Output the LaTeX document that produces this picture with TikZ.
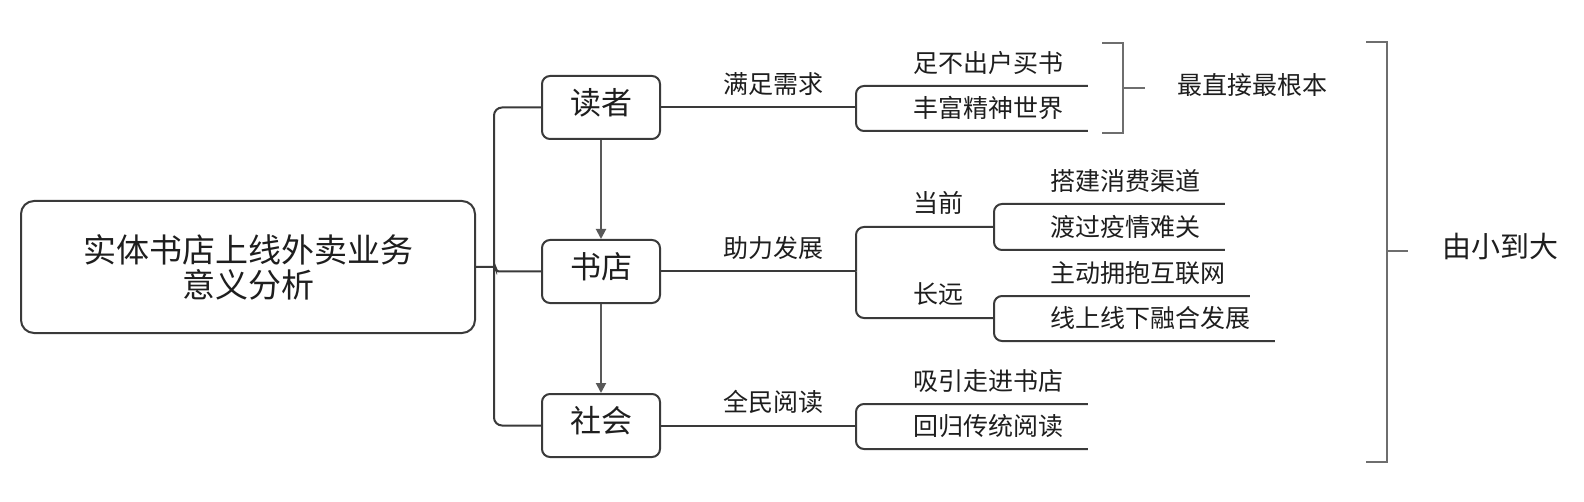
\documentclass[tikz,border=0pt]{standalone}
\usepackage{fontspec}
\setmainfont{Noto Sans CJK SC}
\usetikzlibrary{positioning,calc,arrows.meta}
\usepackage{xcolor}
\definecolor{linec}{HTML}{3A3A3A}
\definecolor{arrowc}{HTML}{595959}
\definecolor{bracec}{HTML}{6E6E6E}
\definecolor{textc}{HTML}{1E1E1E}
\tikzset{
topic/.style={
  draw=linec,
  line width=1pt,
  rounded corners=4pt,
  minimum width=59pt,
  minimum height=31.5pt,
  inner sep=0pt,
  text height=0.84em,
  text depth=0.18em,
  font=\fontsize{15.5}{17}\selectfont,
  text=textc
  },
root/.style={
  topic,
  rounded corners=6.5pt,
  minimum width=227pt,
  minimum height=66pt,
  align=center,
  text height=,
  text depth=,
  font=\fontsize{16.5}{17.5}\selectfont
  },
link/.style={draw=linec, line width=1pt},
flow/.style={draw=arrowc, line width=1pt, -{Triangle[length=5pt,width=5pt]}},
lab/.style={
  font=\fontsize{12.5}{14}\selectfont,
  text=textc,
  text height=0.84em,
  text depth=0.08em,
  inner ysep=5.75pt,
  inner xsep=12pt
  },
brace/.style={draw=bracec, line width=1pt},
%note/.style={font=\small}
}

\begin{document}
\begin{tikzpicture}[x=0.5pt,y=-0.5pt]
    \useasboundingbox (0,0) rectangle (1584,502);
    % root and the three topics
    \node[root] (root) at (248,267) {实体书店上线外卖业务\\意义分析};
    \node[topic] (rd) at (601,107.5) {读者};
    \node[topic] (bs) at (601,271.5) {书店};
    \node[topic] (sc) at (601,425.5) {社会};
    \draw[link, rounded corners=4pt] (rd.west) -- ++(-47,0) |- (sc.west);
    \draw[link, rounded corners=1.5pt] (root.east) -- ++(20,0) |- (bs.west);
    \draw[flow] (rd) -- (bs);
    \draw[flow] (bs) -- (sc);

    % readers
    \coordinate (s1) at (856,107.5);
    \draw[link] (rd.east) -- (s1) node[lab, pos=0.577, above] (need) {满足需求};
    \node[lab, anchor=south west] (rd1) at (889,86) {足不出户买书};
    \node[lab, anchor=south west] (rd2) at (889,131) {丰富精神世界};
    \draw[link, rounded corners=4pt] (rd1.south east) -| (s1) |- (rd2.south east);

    % bookshops
    \coordinate (s2) at (856,271.5);
    \coordinate (s3) at (994,227);
    \coordinate (s4) at (994,318);
    \draw[link] (bs.east) -- (s2) node[lab, pos=0.577, above] (grow) {助力发展};
    \draw[link, rounded corners=4pt] (s3) -| (s2) node[lab, pos=0.2, above] (now) {当前};
    \draw[link, rounded corners=4pt] (s2) |- (s4) node[lab, pos=0.8, above] (far) {长远};
    \node[lab, anchor=south west] (bs1) at (1026,204) {搭建消费渠道};
    \node[lab, anchor=south west] (bs2) at (1026,250) {渡过疫情难关};
    \node[lab, anchor=south west] (bs3) at (1026,296) {主动拥抱互联网};
    \node[lab, anchor=south west] (bs4) at (1026,341) {线上线下融合发展};
    \draw[link, rounded corners=4pt] (bs1.south east) -| (s3) |- (bs2.south east);
    \draw[link, rounded corners=4pt] (bs3.south east) -| (s4) |- (bs4.south east);

    % society
    \coordinate (s5) at (856,425.5);
    \draw[link] (sc.east) -- (s5) node[lab, pos=0.577, above] (all) {全民阅读};
    \node[lab, anchor=south west] (sc1) at (889,404) {吸引走进书店};
    \node[lab, anchor=south west] (sc2) at (889,449) {回归传统阅读};
    \draw[link, rounded corners=4pt] (sc1.south east) -| (s5) |- (sc2.south east);

    % brackets
    \coordinate (b1) at (1123,88);
    \coordinate (b2) at (1387,251);
    \draw[brace] (1102,43) -| (b1) |- (1102,133);
    \draw[brace] (b1) -- ++(22,0);
    \node[lab, anchor=west, inner xsep=0pt] (base) at (1177,87) {最直接最根本};
    \draw[brace] (1366,42) -| (b2) |- (1366,462);
    \draw[brace] (b2) -- ++(21,0);
    \node[lab, anchor=west, inner xsep=0pt, text depth=0.16em, font=\fontsize{14.5}{16}\selectfont] (scale) at (1442,251) {由小到大};
\end{tikzpicture}
\end{document}
